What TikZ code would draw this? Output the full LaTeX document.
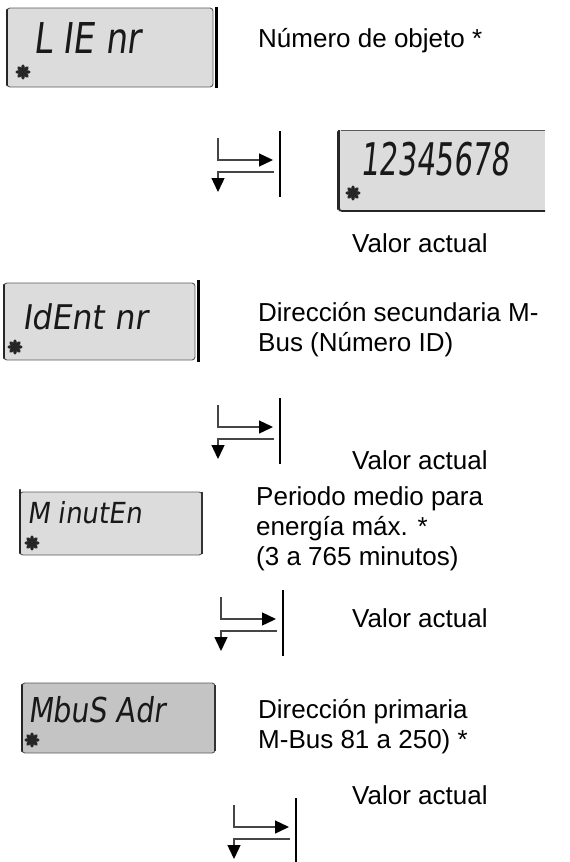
\documentclass[tikz,border=0pt]{standalone}
\usepackage{fontspec}
\setmainfont{Liberation Sans}
\newfontfamily\lcdfont{DejaVu Sans}[FakeSlant=0.16]
\usetikzlibrary{arrows.meta}

\definecolor{lcdfill}{HTML}{DCDCDC}
\definecolor{lcdfilldark}{HTML}{C4C4C4}
\definecolor{lcdedge}{HTML}{5A5A5A}
\definecolor{flowgray}{HTML}{454545}

% LCD text: font size, horizontal squeeze, content
\newcommand{\lcdtxt}[3]{\scalebox{#2}[1]{\lcdfont\fontsize{#1}{#1}\selectfont #3}}

\tikzset{
  lcdbox/.style={fill=lcdfill, draw=lcdedge, line width=0.9pt, rounded corners=3pt},
  lcdboxdark/.style={lcdbox, fill=lcdfilldark},
  leftedge/.style={draw=black!85, line width=2.4pt, line cap=round},
  rightedge/.style={draw=black!80, line width=1.6pt},
  sidebar/.style={draw=black, line width=3.6pt},
  caption/.style={anchor=base west, inner sep=0pt, font=\fontsize{26}{30}\selectfont},
  lcdtext/.style={anchor=base west, inner sep=0pt, text=black!90},
  flowline/.style={draw=flowgray, line width=1.4pt},
  flowarrow/.style={flowline, -{Triangle[length=14pt,width=13pt,color=black]}},
  flowbar/.style={draw=black, line width=2pt},
  % heavy asterisk shown in the lower left corner of each display
  lcdstar/.pic={
    \fill[black!85] (0,0) circle (4);
    \draw[black!85, line width=3.2pt, line cap=round]
      (-6,0) -- (6,0) (0,-6) -- (0,6)
      (-4.3,-4.3) -- (4.3,4.3) (-4.3,4.3) -- (4.3,-4.3);
  },
  % step symbol: next value (right) / next item (down)
  stepflow/.pic={
    \draw[flowbar] (0,0) -- (0,66);
    \draw[flowarrow] (-62,7) -- (-62,29) -- (-7,29);
    \draw[flowarrow] (-6,41) -- (-62,41) -- (-62,61);
  }
}

\begin{document}
\begin{tikzpicture}[x=1pt, y=-1pt]
\useasboundingbox (0,0) rectangle (570,862);

% --- display: L IE nr
\draw[lcdbox] (7,8) rectangle (213,87);
\draw[leftedge] (7,10) -- (7,85);
\draw[sidebar] (216.5,7) -- (216.5,88);
\node[lcdtext] (lcd1) at (33,53) {\lcdtxt{42.5}{0.80}{L IE nr}};
\pic at (23,72) {lcdstar};
\node[caption] (cap1) at (258,47) {Número de objeto *};

% --- flow 1 and current value
\pic at (280,131) {stepflow};
\fill[lcdfill] (338,130) rectangle (545,212);
\draw[lcdedge, line width=0.9pt] (545,130) -- (341,130);
\draw[black!85, line width=1.6pt, rounded corners=3pt] (339,130) -- (339,211) -- (545,211);
\draw[leftedge] (338,132) -- (338,209);
\node[lcdtext] (lcd2) at (360,175) {\lcdtxt{45}{0.65}{12345678}};
\pic at (353,193) {lcdstar};
\node[caption] (val1) at (352,252) {Valor actual};

% --- display: IdEnt nr
\draw[lcdbox] (4,283) rectangle (195,360);
\draw[leftedge] (4,285) -- (4,358);
\draw[sidebar] (198.5,280) -- (198.5,362);
\node[lcdtext] (lcd3) at (22,329) {\lcdtxt{34}{0.93}{IdEnt nr}};
\pic at (15,347) {lcdstar};
\node[caption] (cap2a) at (258,321) {Dirección secundaria M-};
\node[caption] (cap2b) at (258,351) {Bus (Número ID)};

\pic at (280,398) {stepflow};
\node[caption] (val2) at (352,469) {Valor actual};

% --- display: M inutEn
\draw[lcdbox] (20,492) rectangle (202,555);
\draw[leftedge] (20,490) -- (20,553);
\draw[rightedge] (202,492) -- (202,554);
\node[lcdtext] (lcd4) at (27,523) {\lcdtxt{29}{0.90}{M inutEn}};
\pic at (32,543) {lcdstar};
\node[caption] (cap3a) at (256,505) {Periodo medio para};
\node[caption] (cap3b) at (256,535) {energía máx. *};
\node[caption] (cap3c) at (256,565) {(3 a 765 minutos)};

\pic at (283,590) {stepflow};
\node[caption] (val3) at (352,627) {Valor actual};

% --- display: MbuS Adr
\draw[lcdboxdark] (22,683) rectangle (215,753);
\draw[leftedge] (22,685) -- (22,751);
\draw[rightedge] (215,685) -- (215,751);
\node[lcdtext] (lcd5) at (28,722) {\lcdtxt{34.3}{0.83}{MbuS Adr}};
\pic at (32,740) {lcdstar};
\node[caption] (cap4a) at (258,718) {Dirección primaria};
\node[caption] (cap4b) at (258,748) {M-Bus 81 a 250) *};

\pic at (296,798) {stepflow};
\node[caption] (val4) at (352,804) {Valor actual};
\end{tikzpicture}
\end{document}
